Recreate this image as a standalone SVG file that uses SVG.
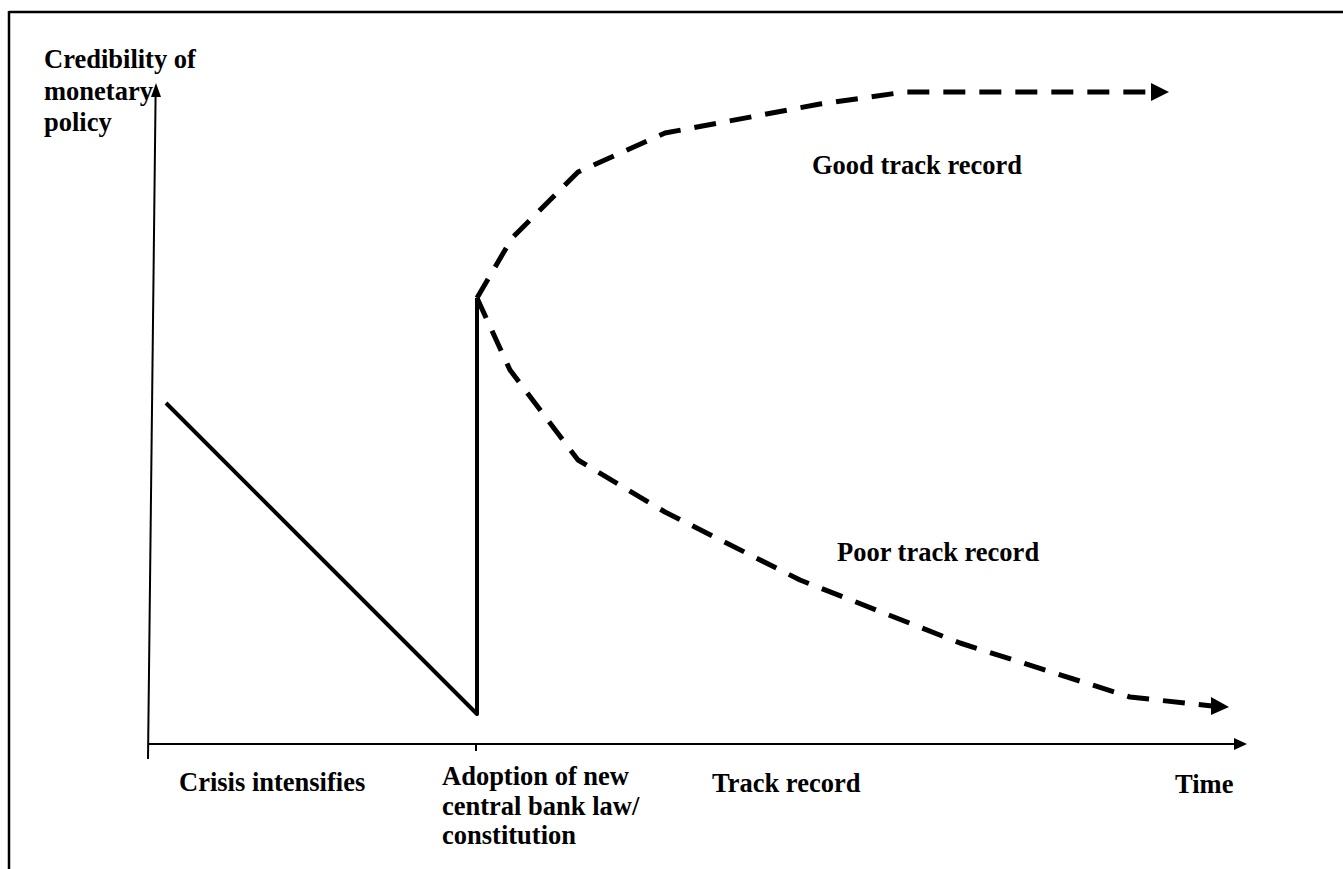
<svg xmlns="http://www.w3.org/2000/svg" width="1343" height="869" viewBox="0 0 1343 869">
<style>
.lbl{font-family:"Liberation Serif","Times New Roman",serif;font-weight:bold;font-size:26.5px;fill:#000}
.axis{stroke:#000;stroke-width:2;fill:none}
.solid{stroke:#000;stroke-width:4;fill:none;stroke-linejoin:round}
.dash{stroke:#000;stroke-width:5;fill:none;stroke-dasharray:22 14;stroke-linejoin:round}
.head{fill:#000}
</style>
<rect width="1343" height="869" fill="#fff"/>
<g id="frame">
<line x1="9" y1="12" x2="1343" y2="12" stroke="#000" stroke-width="2.5"/>
<line x1="9" y1="11" x2="9" y2="869" stroke="#000" stroke-width="2.5"/>
</g>
<g id="axes">
<line class="axis" x1="148" y1="759" x2="155.6" y2="94"/>
<polygon class="head" points="156,83 161,97 151,97"/>
<line class="axis" x1="148" y1="744" x2="1236" y2="744"/>
<polygon class="head" points="1247,744 1234,738 1234,750"/>
<line class="axis" x1="476" y1="744" x2="476" y2="751"/>
</g>
<g id="connectors">
<polyline class="solid" points="166,403 477,714 477,298"/>
<polyline class="dash" points="477,298 512,238 578,172 665,133 820,104 905,92 1151,92"/>
<polygon class="head" points="1151,83 1169,92 1151,101"/>
<polyline class="dash" points="477,298 510,370 578,460 665,512 800,580 960,643 1130,697 1212,706"/>
<polygon class="head" points="1211,697 1229,707 1211,715"/>
</g>
<g id="label-y">
<text class="lbl" x="44" y="68">Credibility of<tspan x="44" y="100">monetary</tspan><tspan x="44" y="131">policy</tspan></text>
</g>
<g id="label-good"><text class="lbl" x="812" y="174">Good track record</text></g>
<g id="label-poor"><text class="lbl" x="837" y="561">Poor track record</text></g>
<g id="label-crisis"><text class="lbl" x="179" y="791">Crisis intensifies</text></g>
<g id="label-adoption">
<text class="lbl" x="442" y="785">Adoption of new<tspan x="442" y="814.5">central bank law/</tspan><tspan x="442" y="844">constitution</tspan></text>
</g>
<g id="label-track"><text class="lbl" x="712" y="792">Track record</text></g>
<g id="label-time"><text class="lbl" x="1175" y="793">Time</text></g>
</svg>
